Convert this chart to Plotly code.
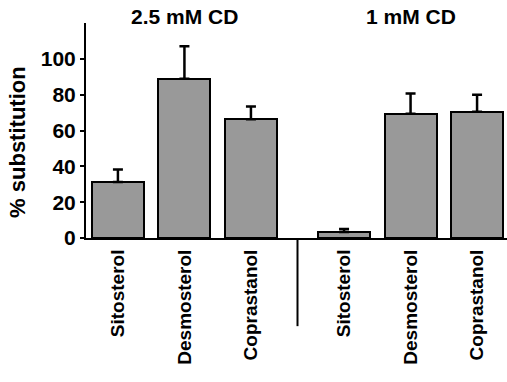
import plotly.graph_objects as go

categories = ["Sitosterol", "Desmosterol", "Coprastanol", "Sitosterol", "Desmosterol", "Coprastanol"]
groups = ["2.5 mM CD", "1 mM CD"]
positions = [0, 1, 2, 3.4, 4.4, 5.4]
values = [31.2, 88.9, 66.3, 3.4, 69.3, 70.4]
errors = [7.1, 18.1, 7.1, 1.6, 11.4, 9.6]
y_ticks = [0, 20, 40, 60, 80, 100]

FONT = "Liberation Sans, Arial, sans-serif"

fig = go.Figure()
fig.add_trace(go.Bar(
    x=positions, y=values, width=0.78,
    marker=dict(color="#999999", line=dict(color="black", width=2)),
    error_y=dict(type="data", array=errors, arrayminus=[0] * len(errors),
                 symmetric=False, color="black", thickness=2.5, width=5),
    showlegend=False,
))

fig.update_layout(
    width=507, height=382,
    margin=dict(l=86, r=0, t=23, b=144),
    paper_bgcolor="white", plot_bgcolor="white",
    font=dict(family=FONT, color="black", size=18, weight="bold"),
    bargap=0,
)
fig.update_xaxes(
    range=[-0.48, 5.85], tickmode="array", tickvals=positions, ticktext=categories,
    tickangle=-90, showline=True, linecolor="black", linewidth=2,
    ticks="", showgrid=False, zeroline=False, ticklabelstandoff=2,
    tickfont=dict(size=19, family=FONT, weight="bold"),
)
fig.update_yaxes(
    range=[0, 120], tickmode="array", tickvals=y_ticks,
    showline=True, linecolor="black", linewidth=2, ticks="outside", ticklen=4,
    tickwidth=2, tickcolor="black", showgrid=False, zeroline=False,
    tickfont=dict(size=21, family=FONT, weight="bold"),
)

# y-axis title
fig.add_annotation(text="% substitution", textangle=-90, xref="paper", yref="paper",
                   x=-0.1615, y=0.447, showarrow=False, xanchor="center", yanchor="middle",
                   font=dict(size=22, family=FONT, weight="bold"))
# group titles
group_centers = [sum(positions[0:3]) / 3, sum(positions[3:6]) / 3]
for g, cx in zip(groups, group_centers):
    fig.add_annotation(text=g, xref="x", yref="paper", x=cx, y=1.028, showarrow=False,
                       xanchor="center", yanchor="middle",
                       font=dict(size=21, family=FONT, weight="bold"))
# separator between groups
sep = (positions[2] + positions[3]) / 2
fig.add_shape(type="line", xref="x", yref="paper", x0=sep, x1=sep, y0=0, y1=-0.41,
              line=dict(color="black", width=2))

fig.write_html("out.html", config={"displayModeBar": False},
               post_script="document.body.style.margin='0';")
